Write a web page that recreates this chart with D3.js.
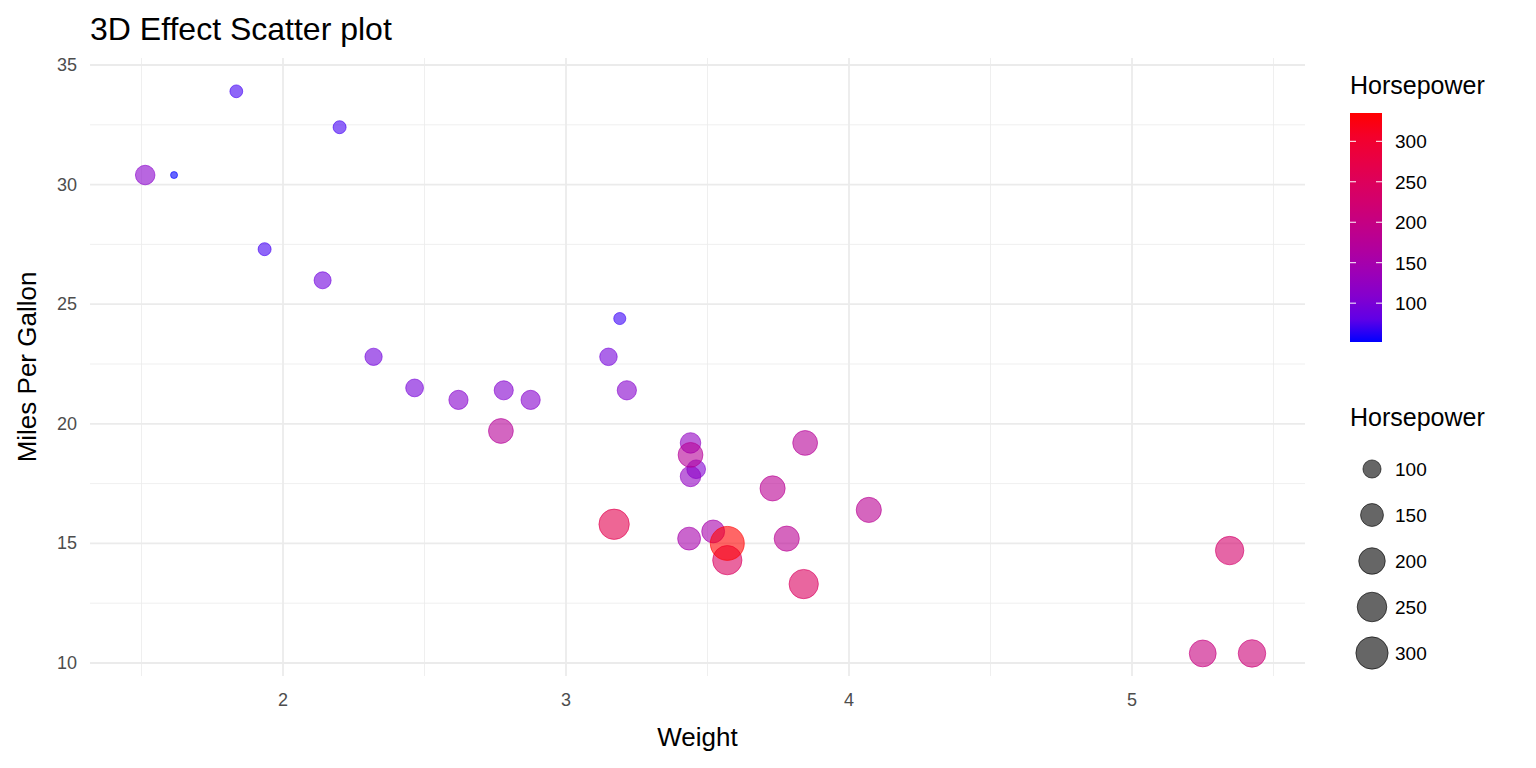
<!DOCTYPE html>
<html><head><meta charset="utf-8">
<script src="https://cdn.jsdelivr.net/npm/d3@7"></script>
<style>body{margin:0;background:#fff;font-family:"Liberation Sans",Arial,sans-serif}</style>
</head><body><div id="chart"></div>
<script>
// mtcars: weight, mpg, horsepower
var weight = [2.620,2.875,2.320,3.215,3.440,3.460,3.570,3.190,3.150,3.440,3.440,4.070,3.730,3.780,5.250,5.424,5.345,2.200,1.615,1.835,2.465,3.520,3.435,3.840,3.845,1.935,2.140,1.513,3.170,2.770,3.570,2.780];
var mpg = [21.0,21.0,22.8,21.4,18.7,18.1,14.3,24.4,22.8,19.2,17.8,16.4,17.3,15.2,10.4,10.4,14.7,32.4,30.4,33.9,21.5,15.5,15.2,13.3,19.2,27.3,26.0,30.4,15.8,19.7,15.0,21.4];
var hp = [110,110,93,110,175,105,245,62,95,123,123,180,180,180,205,215,230,66,52,65,97,150,150,245,175,66,91,113,264,175,335,109];
var xTicks = [2,3,4,5];
var yTicks = [10,15,20,25,30,35];
var colorTicks = [100,150,200,250,300];
var sizeTicks = [100,150,200,250,300];

var svg = d3.select("#chart").append("svg").attr("width",1536).attr("height",768);

var x = d3.scaleLinear().domain([2,3]).range([283,566]);
var y = d3.scaleLinear().domain([10,35]).range([663,65]);
var hpExt = d3.extent(hp);
var color = d3.scaleLinear().domain(hpExt).range(["#0000ff","#ff0000"]).interpolate(d3.interpolateLab);
var size = function(v){ return 3.5 + 13.5*Math.sqrt((v-hpExt[0])/(hpExt[1]-hpExt[0])); };

var L = 90, R = 1305, T = 58, B = 676;
var g = svg.append("g");
// minor grid
d3.range(1.5,5.6,1).forEach(function(v){
  g.append("line").attr("x1",x(v)).attr("x2",x(v)).attr("y1",T).attr("y2",B).attr("stroke","#ebebeb").attr("stroke-width",0.8);
});
d3.range(12.5,33,5).forEach(function(v){
  g.append("line").attr("x1",L).attr("x2",R).attr("y1",y(v)).attr("y2",y(v)).attr("stroke","#ebebeb").attr("stroke-width",0.8);
});
xTicks.forEach(function(v){
  g.append("line").attr("x1",x(v)).attr("x2",x(v)).attr("y1",T).attr("y2",B).attr("stroke","#ebebeb").attr("stroke-width",1.8);
  g.append("text").attr("x",x(v)).attr("y",B+30).attr("text-anchor","middle").attr("font-size",18).attr("fill","#4d4d4d").text(v);
});
yTicks.forEach(function(v){
  g.append("line").attr("x1",L).attr("x2",R).attr("y1",y(v)).attr("y2",y(v)).attr("stroke","#ebebeb").attr("stroke-width",1.8);
  g.append("text").attr("x",L-13).attr("y",y(v)+6).attr("text-anchor","end").attr("font-size",18).attr("fill","#4d4d4d").text(v);
});

var idx = d3.range(weight.length).sort(function(a,b){return hp[a]-hp[b];});
svg.append("g").selectAll("circle").data(idx).join("circle")
  .attr("cx",function(i){return x(weight[i]);})
  .attr("cy",function(i){return y(mpg[i]);})
  .attr("r",function(i){return size(hp[i]);})
  .attr("fill",function(i){return color(hp[i]);})
  .attr("fill-opacity",0.6)
  .attr("stroke",function(i){return color(hp[i]);})
  .attr("stroke-opacity",0.6);

svg.append("text").attr("x",90).attr("y",40).attr("font-size",32).text("3D Effect Scatter plot");
svg.append("text").attr("x",(L+R)/2).attr("y",746).attr("text-anchor","middle").attr("font-size",26).text("Weight");
svg.append("text").attr("transform","translate(36,"+((T+B)/2)+")rotate(-90)").attr("text-anchor","middle").attr("font-size",26).text("Miles Per Gallon");

// colour legend
var defs = svg.append("defs");
var grad = defs.append("linearGradient").attr("id","cg").attr("x1",0).attr("x2",0).attr("y1",1).attr("y2",0);
d3.range(0,1.01,0.1).forEach(function(t){
  grad.append("stop").attr("offset",(t*100)+"%").attr("stop-color",color(hpExt[0]+t*(hpExt[1]-hpExt[0])));
});
var cy = d3.scaleLinear().domain(hpExt).range([342,113]);
svg.append("text").attr("x",1350).attr("y",94).attr("font-size",25).text("Horsepower");
svg.append("rect").attr("x",1350).attr("y",113).attr("width",32).attr("height",229).attr("fill","url(#cg)");
colorTicks.forEach(function(v){
  svg.append("line").attr("x1",1350).attr("x2",1356).attr("y1",cy(v)).attr("y2",cy(v)).attr("stroke","#fff");
  svg.append("line").attr("x1",1376).attr("x2",1382).attr("y1",cy(v)).attr("y2",cy(v)).attr("stroke","#fff");
  svg.append("text").attr("x",1395).attr("y",cy(v)+7).attr("font-size",19).text(v);
});

// size legend
svg.append("text").attr("x",1350).attr("y",426).attr("font-size",25).text("Horsepower");
sizeTicks.forEach(function(v,i){
  var yy = 469 + i*46;
  svg.append("circle").attr("cx",1372).attr("cy",yy).attr("r",size(v))
    .attr("fill","#333").attr("fill-opacity",0.75).attr("stroke","#000").attr("stroke-opacity",0.6);
  svg.append("text").attr("x",1395).attr("y",yy+7).attr("font-size",19).text(v);
});
</script></body></html>
